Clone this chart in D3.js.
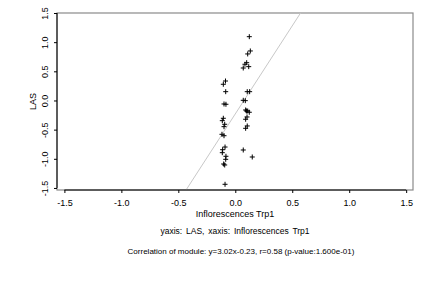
<!DOCTYPE html>
<html>
<head>
<meta charset="utf-8">
<script src="https://cdn.jsdelivr.net/npm/d3@7"></script>
<style>
  body { margin: 0; background: #fff; }
  svg text { font-family: "Liberation Sans", Arial, sans-serif; fill: #000; }
</style>
</head>
<body>
<div id="chart"></div>
<script>
var width = 432,
	height = 288;

// points
var xs = [-0.086, -0.105, -0.084, -0.099, -0.082, -0.105, -0.114, -0.093, -0.099, -0.117,
	-0.099, -0.090, -0.111, -0.114, -0.082, -0.084, -0.102, -0.093, -0.090,
	0.123, 0.132, 0.109, 0.100, 0.085, 0.118, 0.070, 0.105, 0.126, 0.070,
	0.088, 0.091, 0.109, 0.123, 0.098, 0.103, 0.091, 0.105, 0.091, 0.070, 0.149];
var ys = [0.334, 0.278, 0.151, -0.060, -0.065, -0.305, -0.346, -0.408, -0.449, -0.580,
	-0.604, -0.798, -0.844, -0.895, -0.957, -1.009, -1.089, -1.106, -1.437,
	1.094, 0.849, 0.798, 0.648, 0.621, 0.580, 0.557, 0.151, 0.151, 0.003,
	-0.003, -0.163, -0.180, -0.202, -0.180, -0.283, -0.322, -0.437, -0.477, -0.849, -0.969];

var xTicks = [-1.5, -1.0, -0.5, 0.0, 0.5, 1.0, 1.5];
var yTicks = [-1.5, -1.0, -0.5, 0.0, 0.5, 1.0, 1.5];

var slope = 3.02,
	intercept = -0.23;

var xLabel = "Inflorescences Trp1";
var yLabel = "LAS";
var subTitle = "yaxis: LAS, xaxis: Inflorescences Trp1";
var corrText = "Correlation of module: y=3.02x-0.23, r=0.58 (p-value:1.600e-01)";

var box = {left: 57, right: 413, top: 13, bottom: 190};

var x = d3.scaleLinear().domain([-1.565, 1.56]).range([box.left, box.right]);
var y = d3.scaleLinear().domain([-1.535, 1.5]).range([box.bottom, box.top]);

var fmt = function(d) { return d.toFixed(1); };

var svg = d3.select("#chart").append("svg")
	.attr("width", width)
	.attr("height", height);

svg.append("rect")
	.attr("width", width)
	.attr("height", height)
	.attr("fill", "#fff");

svg.append("clipPath").attr("id", "clip")
	.append("rect")
	.attr("x", box.left).attr("y", box.top)
	.attr("width", box.right - box.left)
	.attr("height", box.bottom - box.top);

// gray frame
svg.append("rect")
	.attr("x", box.left).attr("y", box.top)
	.attr("width", box.right - box.left)
	.attr("height", box.bottom - box.top)
	.attr("fill", "none")
	.attr("stroke", "#8a8a8a")
	.attr("stroke-width", 1.2);

// regression line
var xd = x.domain();
svg.append("line")
	.attr("clip-path", "url(#clip)")
	.attr("x1", x(xd[0])).attr("y1", y(slope * xd[0] + intercept))
	.attr("x2", x(xd[1])).attr("y2", y(slope * xd[1] + intercept))
	.attr("stroke", "#c8c8c8")
	.attr("stroke-width", 1);

// points as plus signs
svg.append("g").selectAll("path")
	.data(xs)
	.enter()
	.append("path")
	.attr("transform", function(d, i) { return "translate(" + x(d) + "," + y(ys[i]) + ")"; })
	.attr("d", "M-2.5,0H2.5M0,-2.5V2.5")
	.attr("stroke", "#000")
	.attr("stroke-width", 1)
	.attr("fill", "none");

// x axis
var gx = svg.append("g")
	.attr("transform", "translate(0," + box.bottom + ")")
	.call(d3.axisBottom(x).tickValues(xTicks).tickFormat(fmt).tickSize(3).tickSizeOuter(0));
gx.select(".domain").remove();
gx.append("line")
	.attr("x1", x(xTicks[0])).attr("x2", x(xTicks[xTicks.length - 1]))
	.attr("stroke", "#000");
gx.selectAll(".tick line").attr("stroke", "#000");
gx.selectAll(".tick text")
	.attr("y", 16)
	.attr("dy", null)
	.attr("font-size", "9px")
	.attr("font-family", "Liberation Sans, Arial, sans-serif");

// y axis
var gy = svg.append("g")
	.attr("transform", "translate(" + box.left + ",0)")
	.call(d3.axisLeft(y).tickValues(yTicks).tickFormat(fmt).tickSize(3).tickSizeOuter(0));
gy.select(".domain").remove();
gy.append("line")
	.attr("y1", y(yTicks[0])).attr("y2", y(yTicks[yTicks.length - 1]))
	.attr("stroke", "#000");
gy.selectAll(".tick line").attr("stroke", "#000");
gy.selectAll(".tick text")
	.attr("x", null).attr("dy", null)
	.attr("text-anchor", "middle")
	.attr("transform", "translate(-9,0) rotate(-90)")
	.attr("font-size", "9px")
	.attr("font-family", "Liberation Sans, Arial, sans-serif");

// labels
svg.append("text")
	.attr("x", (box.left + box.right) / 2)
	.attr("y", 217)
	.attr("text-anchor", "middle")
	.attr("font-size", "9px")
	.text(xLabel);

svg.append("text")
	.attr("transform", "translate(36," + ((box.top + box.bottom) / 2) + ") rotate(-90)")
	.attr("text-anchor", "middle")
	.attr("font-size", "9px")
	.text(yLabel);

svg.append("text")
	.attr("x", (box.left + box.right) / 2)
	.attr("y", 234)
	.attr("text-anchor", "middle")
	.attr("font-size", "8.5px")
	.attr("word-spacing", "1.5px")
	.text(subTitle);

svg.append("text")
	.attr("x", 241)
	.attr("y", 253.5)
	.attr("text-anchor", "middle")
	.attr("font-size", "8px")
	.text(corrText);
</script>
</body>
</html>
